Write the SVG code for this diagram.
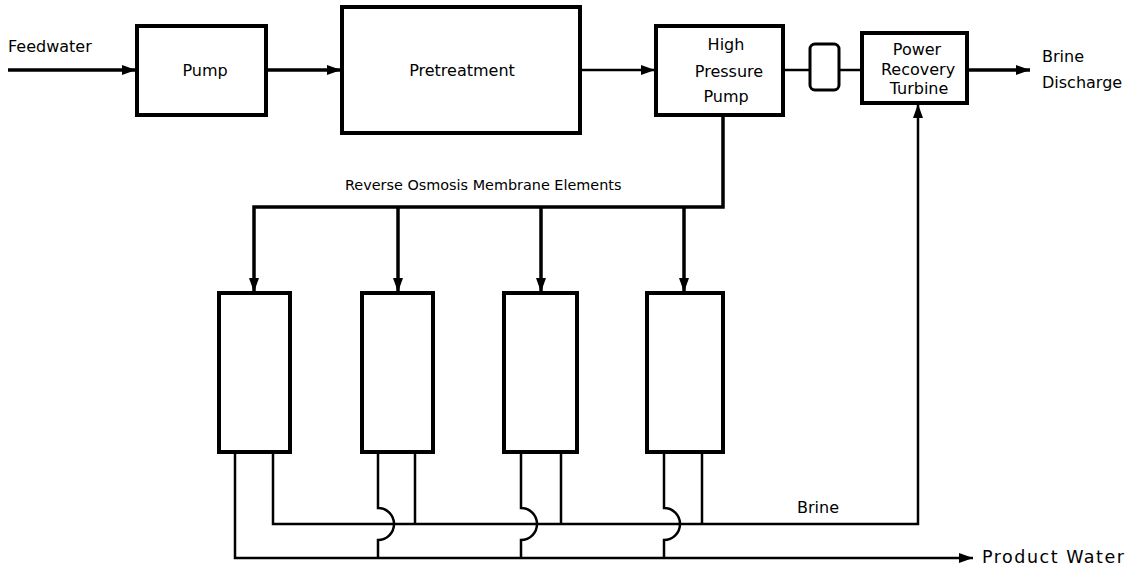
<svg xmlns="http://www.w3.org/2000/svg" width="1129" height="568" viewBox="0 0 1129 568">
<style>
.box{fill:#fff;stroke:#000;stroke-width:4}
.ln{fill:none;stroke:#000;stroke-width:2.5}
.thk{fill:none;stroke:#000;stroke-width:3.5}
text{font-family:"DejaVu Sans","Liberation Sans",Arial,sans-serif;font-size:16px;fill:#000}
.c{text-anchor:middle}
.sm{font-size:14.4px}
</style>
<defs>
<marker id="ah" viewBox="0 0 14 10" refX="14" refY="5" markerWidth="14" markerHeight="10" markerUnits="userSpaceOnUse" orient="auto">
<path d="M0,0 L14,5 L0,10 Z" fill="#000"/>
</marker>
</defs>
<rect width="1129" height="568" fill="#fff"/>
<g id="connectors">
<path class="thk" d="M8,70 H136" marker-end="url(#ah)"/>
<path class="thk" d="M266,70 H341" marker-end="url(#ah)"/>
<path class="ln" d="M580,70 H655" marker-end="url(#ah)"/>
<path class="ln" d="M783,70 H810"/>
<path class="ln" d="M839,70 H862"/>
<path class="thk" d="M967,70 H1030" marker-end="url(#ah)"/>
<path class="thk" d="M723,115 V207 H254 V292" marker-end="url(#ah)"/>
<path class="thk" d="M398,207 V292" marker-end="url(#ah)"/>
<path class="thk" d="M541,207 V292" marker-end="url(#ah)"/>
<path class="thk" d="M684,207 V292" marker-end="url(#ah)"/>
<path class="ln" d="M235,452 V558 H973" marker-end="url(#ah)"/>
<path class="ln" d="M273,452 V524 H918 V104" marker-end="url(#ah)"/>
<path class="ln" d="M378,452 V508 A16,16 0 0 1 378,540 V558"/>
<path class="ln" d="M415,452 V524"/>
<path class="ln" d="M521,452 V508 A16,16 0 0 1 521,540 V558"/>
<path class="ln" d="M561,452 V524"/>
<path class="ln" d="M664,452 V508 A16,16 0 0 1 664,540 V558"/>
<path class="ln" d="M702,452 V524"/>
</g>
<g id="feedwater"><text x="8" y="52">Feedwater</text></g>
<g id="pump">
<rect class="box" x="137" y="26" width="129" height="89"/>
<text class="c" x="205" y="76">Pump</text>
</g>
<g id="pretreatment">
<rect class="box" x="342" y="7" width="238" height="126"/>
<text class="c" x="462" y="76">Pretreatment</text>
</g>
<g id="hpp">
<rect class="box" x="656" y="26" width="127" height="89"/>
<text class="c" x="726" y="50">High</text>
<text class="c" x="729" y="77">Pressure</text>
<text class="c" x="726" y="102">Pump</text>
</g>
<g id="valve">
<rect x="810" y="44" width="29" height="46" rx="5" fill="#fff" stroke="#000" stroke-width="3"/>
</g>
<g id="turbine">
<rect class="box" x="862" y="33" width="105" height="70"/>
<text class="c" x="917" y="55">Power</text>
<text class="c" x="918" y="75">Recovery</text>
<text class="c" x="919" y="94">Turbine</text>
</g>
<g id="brine-discharge">
<text x="1042" y="62">Brine</text>
<text x="1042" y="88">Discharge</text>
</g>
<g id="ro-label"><text class="sm" x="345" y="190">Reverse Osmosis Membrane Elements</text></g>
<g id="membrane1"><rect class="box" x="219" y="293" width="71" height="159"/></g>
<g id="membrane2"><rect class="box" x="362" y="293" width="71" height="159"/></g>
<g id="membrane3"><rect class="box" x="504" y="293" width="73" height="159"/></g>
<g id="membrane4"><rect class="box" x="647" y="293" width="76" height="159"/></g>
<g id="brine-label"><text x="797" y="513">Brine</text></g>
<g id="product-water"><text x="982" y="563" style="font-size:17.5px" textLength="142" lengthAdjust="spacing">Product Water</text></g>
</svg>
